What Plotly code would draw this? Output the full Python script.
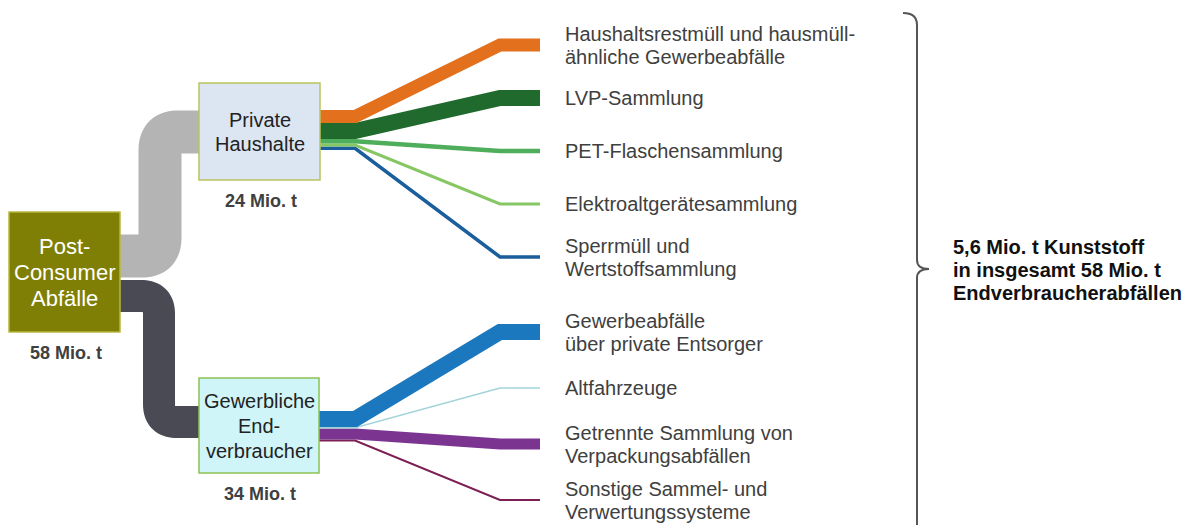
import numpy as np
import plotly.graph_objects as go

# ---------------- data ----------------
node_lines = [["Post-", "Consumer", "Abfälle"],
              ["Private", "Haushalte"],
              ["Gewerbliche", "End-", "verbraucher"]]
node_totals = ["58 Mio. t", "24 Mio. t", "34 Mio. t"]

household_streams = [["Haushaltsrestmüll und hausmüll-", "ähnliche Gewerbeabfälle"],
                     ["LVP-Sammlung"],
                     ["PET-Flaschensammlung"],
                     ["Elektroaltgerätesammlung"],
                     ["Sperrmüll und", "Wertstoffsammlung"]]
household_share = [13, 16, 4.5, 3, 3.5]          # relative band thickness (estimated)
household_colors = ["#e2701c", "#1f6a2c", "#4fae5c", "#86c663", "#1b5e9c"]

commercial_streams = [["Gewerbeabfälle", "über private Entsorger"],
                      ["Altfahrzeuge"],
                      ["Getrennte Sammlung von", "Verpackungsabfällen"],
                      ["Sonstige Sammel- und", "Verwertungssysteme"]]
commercial_share = [16, 1.5, 11, 2]
commercial_colors = ["#1c78be", "#a3d4da", "#7b3591", "#7c1f55"]

summary_lines = ["5,6 Mio. t Kunststoff", "in insgesamt 58 Mio. t", "Endverbraucherabfällen"]

# ---------------- layout / style ----------------
W, H = 1194, 525
PAGE_MARGIN = 8          # default body margin of the html page
FONT = "Liberation Sans, Arial, sans-serif"
TEXT_GREY = "#404040"
boxes = {
    0: dict(x0=9, y0=212, x1=120, y1=332, fill="#7f7f05", line="#b8b840"),
    1: dict(x0=199, y0=83, x1=320, y1=180, fill="#dce6f2", line="#b9c45e"),
    2: dict(x0=199, y0=378, x1=319, y1=473, fill="#d0f5f8", line="#8cc152"),
}
trunk_style = [dict(color="#b4b4b4", width=43), dict(color="#4a4a55", width=32)]
LINE_PITCH = 23


def rounded(points, r, n=20):
    """Polyline with rounded corners (quadratic bezier at each inner vertex)."""
    pts = [np.array(p, float) for p in points]
    xs, ys = [pts[0][0]], [pts[0][1]]
    for i in range(1, len(pts) - 1):
        p0, p1, p2 = pts[i - 1], pts[i], pts[i + 1]
        a = p1 + (p0 - p1) / np.linalg.norm(p0 - p1) * r
        b = p1 + (p2 - p1) / np.linalg.norm(p2 - p1) * r
        for t in np.linspace(0, 1, n):
            q = (1 - t) ** 2 * a + 2 * (1 - t) * t * p1 + t ** 2 * b
            xs.append(q[0]); ys.append(q[1])
    xs.append(pts[-1][0]); ys.append(pts[-1][1])
    return xs, ys


fig = go.Figure()

# trunks from Post-Consumer box to the two collector boxes
trunk_paths = [
    [(112, 256), (160, 256), (160, 132), (203, 132)],
    [(112, 296), (159, 296), (159, 422), (203, 422)],
]
for path, st in zip(trunk_paths[::-1], trunk_style[::-1]):
    xs, ys = rounded(path, 18)
    fig.add_trace(go.Scatter(x=xs, y=ys, mode="lines", hoverinfo="skip",
                             line=dict(color=st["color"], width=st["width"], simplify=False)))


def fan(box_right, stack_top, shares, colors, labels, first_end, step):
    y = stack_top
    starts = []
    for w in shares:
        starts.append(y + w / 2)
        y += w
    for i in list(range(len(shares)))[::-1]:
        ye = first_end + i * step
        fig.add_trace(go.Scatter(
            x=[box_right - 2, 355, 500, 540], y=[starts[i], starts[i], ye, ye],
            mode="lines", hoverinfo="skip",
            line=dict(color=colors[i], width=shares[i], simplify=False)))
    for i, lines in enumerate(labels):
        ye = first_end + i * step
        y0 = ye - (len(lines) - 1) * LINE_PITCH / 2
        for k, t in enumerate(lines):
            fig.add_annotation(x=563, y=y0 + k * LINE_PITCH, text=t, showarrow=False,
                               xanchor="left", yanchor="middle",
                               font=dict(family=FONT, size=20, color=TEXT_GREY))


fan(320, 110, household_share, household_colors, household_streams, 45, 53)
fan(319, 411, commercial_share, commercial_colors, commercial_streams, 332, 56)

# boxes
for k, b in boxes.items():
    fig.add_shape(type="rect", x0=b["x0"], y0=b["y0"], x1=b["x1"], y1=b["y1"],
                  xref="x", yref="y", fillcolor=b["fill"], layer="above",
                  line=dict(color=b["line"], width=1.5))

# box texts
box_text_style = [dict(size=22, color="white", pitch=26),
                  dict(size=20, color="#222222", pitch=24),
                  dict(size=20, color="#222222", pitch=25)]
for k, lines in enumerate(node_lines):
    b = boxes[k]; st = box_text_style[k]
    cx = (b["x0"] + b["x1"]) / 2
    cy = (b["y0"] + b["y1"]) / 2
    y0 = cy - (len(lines) - 1) * st["pitch"] / 2
    for j, t in enumerate(lines):
        fig.add_annotation(x=cx, y=y0 + j * st["pitch"], text=t, showarrow=False,
                           xanchor="center", yanchor="middle",
                           font=dict(family=FONT, size=st["size"], color=st["color"]))

# totals below the boxes
for k, t in enumerate(node_totals):
    b = boxes[k]
    fig.add_annotation(x=(b["x0"] + b["x1"]) / 2 + 1, y=b["y1"] + 21, text="<b>" + t + "</b>",
                       showarrow=False, xanchor="center", yanchor="middle",
                       font=dict(family=FONT, size=18, color=TEXT_GREY))

# bracket
fig.add_shape(type="path", xref="x", yref="y",
              path="M 903,13 Q 917,13 917,25 L 917,260 Q 917,269 929,269 "
                   "Q 917,269 917,278 L 917,540",
              line=dict(color="#555555", width=2))

for j, t in enumerate(summary_lines):
    fig.add_annotation(x=951, y=247 + j * LINE_PITCH, text="<b>" + t + "</b>", showarrow=False,
                       xanchor="left", yanchor="middle",
                       font=dict(family=FONT, size=20, color="#111111"))

fig.update_layout(
    width=W - PAGE_MARGIN, height=H - PAGE_MARGIN, margin=dict(l=0, r=0, t=0, b=0),
    paper_bgcolor="white", plot_bgcolor="white", showlegend=False,
    xaxis=dict(range=[PAGE_MARGIN, W], visible=False, fixedrange=True),
    yaxis=dict(range=[H, PAGE_MARGIN], visible=False, fixedrange=True),
)

fig.write_html("out.html")
